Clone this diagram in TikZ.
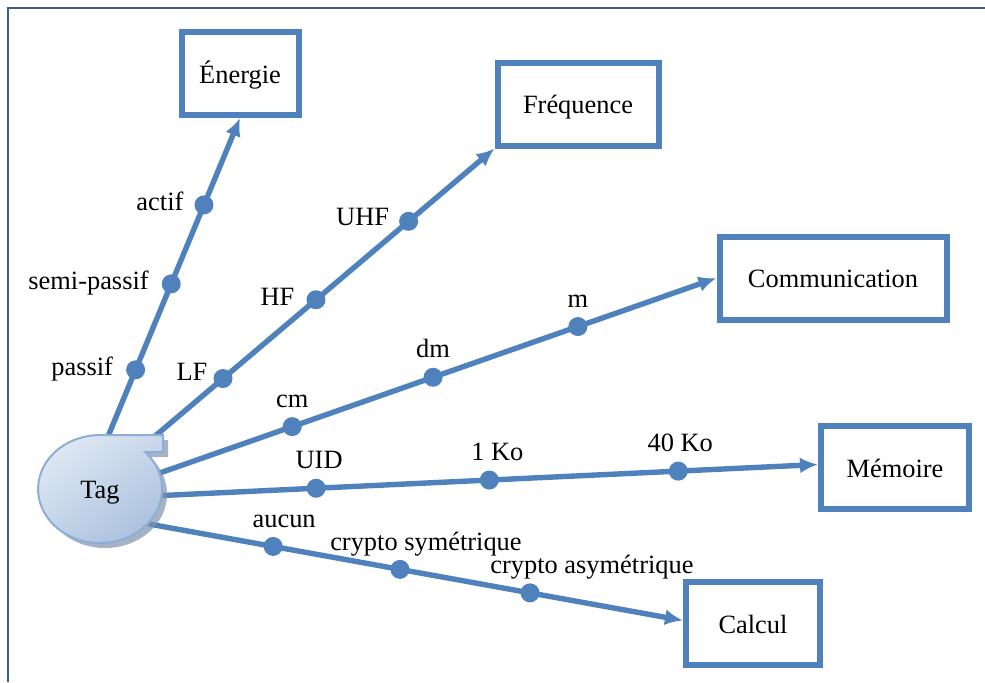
\documentclass[tikz,border=0pt]{standalone}
\usepackage{fontspec}
\setmainfont{Liberation Serif}
\usetikzlibrary{arrows.meta,positioning,shadows,backgrounds,shapes.geometric}
\definecolor{LinkBlue}{HTML}{4F81BD}
\definecolor{FrameBlue}{HTML}{3A5F8F}
\definecolor{TagLight}{HTML}{DFE8F3}
\definecolor{TagDark}{HTML}{A9C0DE}
\definecolor{TagEdge}{HTML}{8FAED6}
\definecolor{TagShadow}{HTML}{7F93AD}

\begin{document}
\begin{tikzpicture}[
	x=0.5pt, y=-0.5pt,
	every node/.style={font=\fontsize{13.2}{15}\selectfont},
	target/.style={
		draw=LinkBlue,
		line width=3pt,
		fill=white,
		minimum height=41.5pt,
		text height=2.1ex,
		text depth=0pt,
		align=center,
		inner sep=2pt
	},
	dot/.style={circle, fill=LinkBlue, minimum size=9.5pt, inner sep=0pt},
	lbl/.style={inner sep=1pt, text height=1.6ex, text depth=.3ex},
	link/.style={
		-{Latex[length=9pt,width=8pt]},
		line width=2.7pt,
		draw=LinkBlue
	},
	tagbody/.style={
		draw=TagEdge,
		line width=1pt,
		top color=TagLight,
		bottom color=TagDark,
		shading angle=35,
		drop shadow={shadow xshift=2.5pt, shadow yshift=-2.5pt, fill=TagShadow, opacity=0.7}
	}
]

\useasboundingbox (0,0) rectangle (985,682);
\draw[FrameBlue, line width=1pt] (8,682) -- (8,8) -- (985,8);

\path[tagbody] (100,435) -- (163,435) -- (163,452) -- (145.2,452)
	arc[start angle=-43.3, end angle=270, x radius=62, y radius=54] -- cycle;
\node[ellipse, minimum width=62pt, minimum height=54pt, inner sep=0pt,
	text height=2.1ex, text depth=0pt] (tag) at (100,489) {Tag};

\node[target, minimum width=58.5pt] (energie) at (240,73.5) {Énergie};
\node[target, minimum width=80.5pt] (frequence) at (578,104) {Fréquence};
\node[target, minimum width=113.5pt] (communication) at (833,278) {Communication};
\node[target, minimum width=74pt] (memoire) at (895,467.5) {Mémoire};
\node[target, minimum width=67pt] (calcul) at (753,623.5) {Calcul};

\begin{scope}[on background layer]
\draw[link] (tag.81) -- node[dot, pos=0.206] (passif) {} node[dot, pos=0.477] (semipassif) {}
	node[dot, pos=0.726] (actif) {} (energie.south);
\draw[link] (tag.45) -- node[dot, pos=0.232] (lf) {} node[dot, pos=0.495] (hf) {}
	node[dot, pos=0.757] (uhf) {} (frequence.south west);
\draw[link] (tag.15) -- node[dot, pos=0.238] (cm) {} node[dot, pos=0.491] (dm) {}
	node[dot, pos=0.751] (m) {} (communication.west);
\draw[link] (tag.-6) -- node[dot, pos=0.235] (uid) {} node[dot, pos=0.499] (unko) {}
	node[dot, pos=0.787] (quarante) {} ([yshift=1.5pt]memoire.west);
\draw[link] (tag.-36) -- node[dot, pos=0.234] (aucun) {} node[dot, pos=0.471] (sym) {}
	node[dot, pos=0.714] (asym) {} ([yshift=1.5pt]calcul.west);
\end{scope}

\node[lbl, left=4pt of passif] (passiftxt) {passif};
\node[lbl, left=4pt of semipassif] (semipassiftxt) {semi-passif};
\node[lbl, left=3pt of actif] (actiftxt) {actif};
\node[lbl, left=0.5pt of lf, yshift=2pt] (lftxt) {LF};
\node[lbl, left=3.5pt of hf] (hftxt) {HF};
\node[lbl, left=2.5pt of uhf, yshift=1pt] (uhftxt) {UHF};
\node[lbl, above=1pt of cm] (cmtxt) {cm};
\node[lbl, above=1pt of dm] (dmtxt) {dm};
\node[lbl, above=1pt of m] (mtxt) {m};
\node[lbl, above=1pt of uid, xshift=1.5pt] (uidtxt) {UID};
\node[lbl, above=1pt of unko, xshift=4pt] (unkotxt) {1 Ko};
\node[lbl, above=1pt of quarante, xshift=1pt] (quarantetxt) {40 Ko};
\node[lbl, above=1pt of aucun, xshift=5.5pt] (aucuntxt) {aucun};
\node[lbl, above=1pt of sym, xshift=13pt] (symtxt) {crypto symétrique};
\node[lbl, above=1pt of asym, xshift=31pt] (asymtxt) {crypto asymétrique};

\end{tikzpicture}
\end{document}
